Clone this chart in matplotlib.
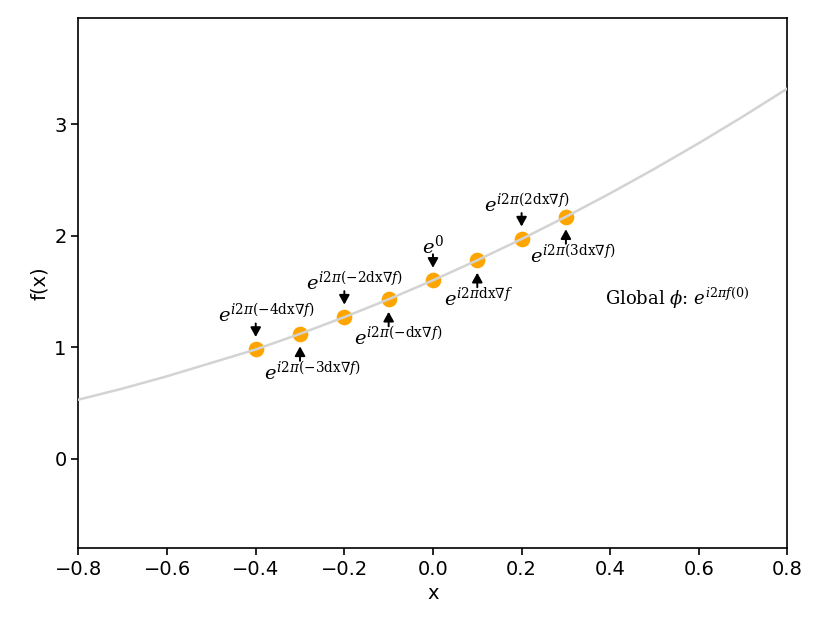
import numpy as np
import matplotlib
matplotlib.use('Agg')
import matplotlib.pyplot as plt

plt.rcParams['mathtext.fontset'] = 'dejavuserif'

# curve f(x)
curva_x = [-0.8, -0.7, -0.6, -0.5, -0.4, -0.3, -0.2, -0.1, 0.0,
           0.1, 0.2, 0.3, 0.4, 0.5, 0.6, 0.7, 0.8]
curva_y = [0.53, 0.63, 0.74, 0.86, 0.98, 1.12, 1.27, 1.43, 1.60,
           1.78, 1.97, 2.17, 2.38, 2.60, 2.83, 3.07, 3.32]

# sampled points
pontos_x = [-0.4, -0.3, -0.2, -0.1, 0.0, 0.1, 0.2, 0.3]
pontos_y = [0.98, 1.12, 1.27, 1.43, 1.60, 1.78, 1.97, 2.17]
rotulos = [r'$e^{i2\pi(-4\mathrm{dx}\nabla f)}$',
           r'$e^{i2\pi(-3\mathrm{dx}\nabla f)}$',
           r'$e^{i2\pi(-2\mathrm{dx}\nabla f)}$',
           r'$e^{i2\pi(-\mathrm{dx}\nabla f)}$',
           r'$e^{0}$',
           r'$e^{i2\pi\mathrm{dx}\nabla f}$',
           r'$e^{i2\pi(2\mathrm{dx}\nabla f)}$',
           r'$e^{i2\pi(3\mathrm{dx}\nabla f)}$']
acima = [True, False, True, False, True, False, True, False]
texto_global = r'Global $\phi$: $e^{i2\pi f(0)}$'

# horizontal shift of each label (pixels), layout only
desloc = [11, 13, 10, 10, 0, 1, 5, 7]

fig = plt.figure(figsize=(8.14, 6.24), dpi=100)
ax = fig.add_axes([0.0964, 0.1218, 0.871, 0.849])

ax.scatter(pontos_x, pontos_y, s=105, color='#FFA500', zorder=2)
ax.plot(curva_x, curva_y, color='lightgray', lw=1.8, zorder=3)

seta = dict(arrowstyle='-|>,head_length=0.4,head_width=0.22', color='black',
            lw=1.4, mutation_scale=14, shrinkA=0, shrinkB=9)

for x, y, lab, up, dx in zip(pontos_x, pontos_y, rotulos, acima, desloc):
    if up:
        ax.annotate('', xy=(x, y), xytext=(0, 26), textcoords='offset pixels',
                    arrowprops=seta)
        ax.annotate(lab, xy=(x, y), xytext=(dx, 27), textcoords='offset pixels',
                    ha='center', va='baseline', fontsize=14, family='DejaVu Serif')
    else:
        ax.annotate('', xy=(x, y), xytext=(0, -27), textcoords='offset pixels',
                    arrowprops=seta)
        ax.annotate(lab, xy=(x, y), xytext=(dx, -46), textcoords='offset pixels',
                    ha='center', va='baseline', fontsize=14, family='DejaVu Serif')

ax.text(0.388, 1.38, texto_global, ha='left', va='baseline',
        fontsize=13, family='DejaVu Serif')

ax.set_xlim(-0.8, 0.8)
ax.set_ylim(-0.8, 3.95)
ax.set_xticks([-0.8, -0.6, -0.4, -0.2, 0.0, 0.2, 0.4, 0.6, 0.8])
ax.set_yticks([0, 1, 2, 3])
ax.tick_params(labelsize=14, length=5, width=1.2)
for s in ax.spines.values():
    s.set_linewidth(1.2)
ax.set_xlabel('x', fontsize=14)
ax.set_ylabel('f(x)', fontsize=14)

plt.savefig('out.png', dpi=100)
